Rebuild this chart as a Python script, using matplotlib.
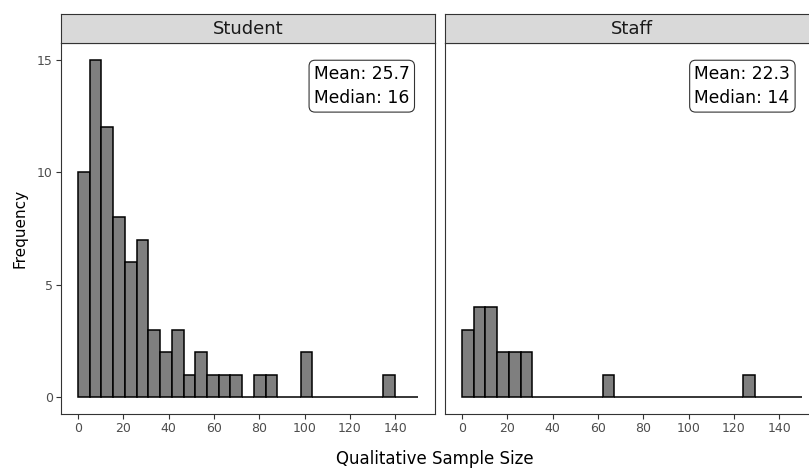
import matplotlib
matplotlib.use("Agg")
import matplotlib.pyplot as plt
import numpy as np

# ---- data ----
panels = ["Student", "Staff"]
bin_start = 0.0
bin_width = 150 / 29
student_counts = [10, 15, 12, 8, 6, 7, 3, 2, 3, 1, 2, 1, 1, 1, 0, 1, 1, 0, 0, 2,
                  0, 0, 0, 0, 0, 0, 1, 0, 0]
staff_counts = [3, 4, 4, 2, 2, 2, 0, 0, 0, 0, 0, 0, 1, 0, 0, 0, 0, 0, 0, 0,
                0, 0, 0, 0, 1, 0, 0, 0, 0]
stat_labels = ["Mean: 25.7\nMedian: 16", "Mean: 22.3\nMedian: 14"]
x_ticks = [0, 20, 40, 60, 80, 100, 120, 140]
y_ticks = [0, 5, 10, 15]
x_label = "Qualitative Sample Size"
y_label = "Frequency"

plt.rcParams['font.family'] = ['DejaVu Sans']

W, H = 809, 470
fig = plt.figure(figsize=(W / 100, H / 100), dpi=100)
fig.patch.set_facecolor("white")

def px_rect(left, top, right, bottom):
    return [left / W, (H - bottom) / H, (right - left) / W, (bottom - top) / H]

panel_px = [(61, 435), (445, 819)]
label_pos = [(125.2, 13.83), (123.7, 13.83)]
all_counts = [student_counts, staff_counts]
border = "#333333"

for i, name in enumerate(panels):
    l, r = panel_px[i]
    ax = fig.add_axes(px_rect(l, 43, r, 414))
    counts = np.array(all_counts[i])
    edges = bin_start + bin_width * np.arange(len(counts))
    ax.bar(edges, counts, width=bin_width, align="edge", color="#7F7F7F",
           edgecolor="black", linewidth=1.1, zorder=2)
    ax.set_xlim(-7.5, 157.5)
    ax.set_ylim(-0.75, 15.75)
    ax.set_xticks(x_ticks)
    ax.set_yticks(y_ticks)
    ax.tick_params(axis="both", colors=border, labelcolor="#4D4D4D",
                   labelsize=9, length=3.5, width=0.8, pad=2.5)
    if i > 0:
        ax.tick_params(axis="y", left=False, labelleft=False)
    for s in ax.spines.values():
        s.set_color(border)
        s.set_linewidth(0.8)
    ax.text(label_pos[i][0], label_pos[i][1], stat_labels[i], ha="center",
            va="center", multialignment="left", fontsize=12.3, color="black",
            linespacing=1.45, zorder=5,
            bbox=dict(boxstyle="round,pad=0.28,rounding_size=0.35", fc="white",
                      ec="#333333", lw=0.8))
    if i == 0:
        ax.set_ylabel(y_label, fontsize=11, color="black", labelpad=7)

    sax = fig.add_axes(px_rect(l, 14, r, 43))
    sax.set_facecolor("#D9D9D9")
    sax.set_xticks([])
    sax.set_yticks([])
    for s in sax.spines.values():
        s.set_color(border)
        s.set_linewidth(0.8)
    sax.text(0.5, 0.5, name, transform=sax.transAxes, ha="center", va="center",
             fontsize=13, color="#1A1A1A")

fig.text(434.5 / W, 1 - 459 / H, x_label, ha="center", va="center",
         fontsize=12, color="black")

fig.savefig("out.png", dpi=100)
